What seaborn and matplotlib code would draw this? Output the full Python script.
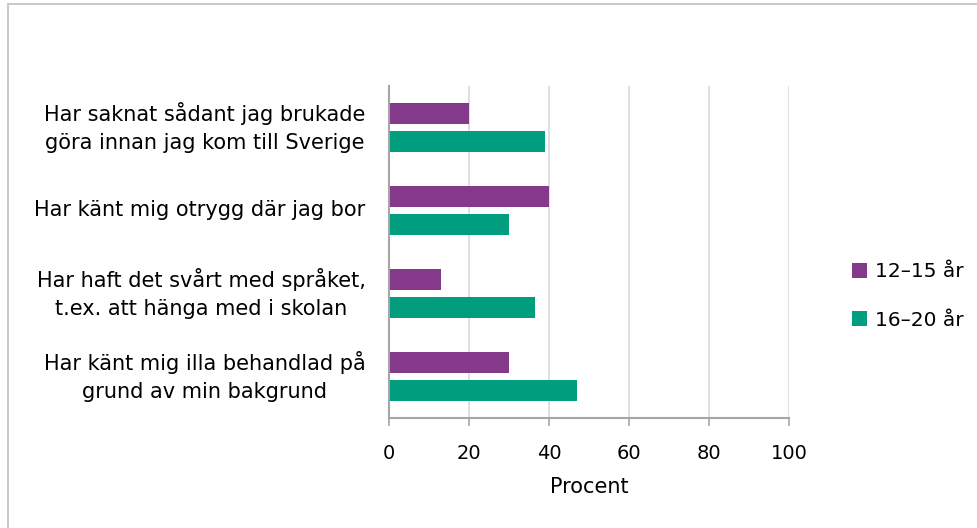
import pandas as pd
import numpy as np
import seaborn as sns
import matplotlib.pyplot as plt
from matplotlib.patches import Rectangle

# Data
categories = [
    "Har saknat sådant jag brukade\ngöra innan jag kom till Sverige",
    "Har känt mig otrygg där jag bor",
    "Har haft det svårt med språket,\nt.ex. att hänga med i skolan",
    "Har känt mig illa behandlad på\ngrund av min bakgrund",
]
groups = ["12–15 år", "16–20 år"]
values_young = [20, 40, 13, 30]
values_old = [39, 30, 36.5, 47]
colors = ["#84398A", "#009E7E"]

df = pd.DataFrame({
    "kategori": categories * 2,
    "grupp": [groups[0]] * 4 + [groups[1]] * 4,
    "procent": values_young + values_old,
})

sns.set_theme(style="white")
plt.rcParams["font.family"] = ["DejaVu Sans"]

fig = plt.figure(figsize=(9.78, 5.28), dpi=100)
ax = fig.add_axes([389 / 978, 110 / 528, 400 / 978, 332 / 528])

sns.barplot(data=df, y="kategori", x="procent", hue="grupp", orient="h",
            palette=colors, width=0.667, gap=0.22, ax=ax, saturation=1,
            edgecolor="none")

ax.set_xlim(0, 100)
ax.set_xticks(np.arange(0, 101, 20))
ax.set_ylim(3.5, -0.5)
ax.grid(axis="x", color="#d9d9d9", linewidth=1.2)
ax.set_axisbelow(True)
for side in ["top", "right"]:
    ax.spines[side].set_visible(False)
ax.spines["left"].set_color("#a6a6a6")
ax.spines["bottom"].set_color("#a6a6a6")
ax.spines["left"].set_linewidth(1.5)
ax.spines["bottom"].set_linewidth(1.5)
ax.tick_params(axis="x", bottom=True, length=6, color="#a6a6a6", width=1.2,
               pad=13, labelsize=14, labelcolor="black")
ax.tick_params(axis="y", left=False, pad=11, labelsize=15, labelcolor="black")
for lbl in ax.get_yticklabels():
    lbl.set_horizontalalignment("right")
    lbl.set_verticalalignment("center")
    lbl.set_multialignment("center")
    lbl.set_linespacing(1.55)
ax.set_ylabel("")
ax.set_xlabel("Procent", fontsize=15, labelpad=10, color="black")

leg = ax.legend(loc="center left", bbox_to_anchor=(834 / 978, 1 - 296 / 528),
                bbox_transform=fig.transFigure, frameon=False, fontsize=14.5,
                handlelength=0.75, handleheight=0.75, handletextpad=0.4,
                labelspacing=1.45, labelcolor="black")

# outer frame
fig.patches.append(Rectangle((8 / 978, -0.1), 1.2, (524 / 528) + 0.1,
                             transform=fig.transFigure, fill=False,
                             edgecolor="#bfbfbf", linewidth=1.2))

fig.savefig("out.png", dpi=100)
